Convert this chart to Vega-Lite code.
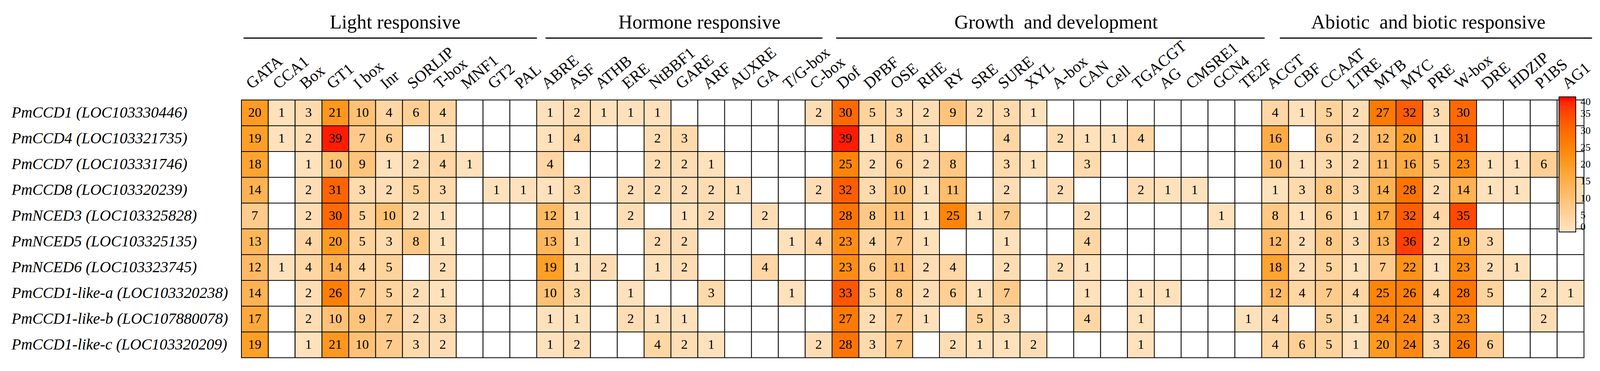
{
  "$schema": "https://vega.github.io/schema/vega-lite/v6.json",
  "padding": {"left": 29, "top": 32, "right": 10, "bottom": 10},
  "bounds": "flush",
  "spacing": 0,
  "config": {"view": {"stroke": null}, "font": "Liberation Serif", "axis": {"labelColor": "black", "labelFont": "Liberation Serif"}, "legend": {"padding": 0, "offset": 0}},
  "datasets": {
    "cis": [
      {"gene":"PmCCD1 (LOC103330446)","GATA":20,"CCA1":1,"Box":3,"GT1":21,"I box":10,"Inr":4,"SORLIP":6,"T-box":4,"ABRE":1,"ASF":2,"ATHB":1,"ERE":1,"NtBBF1":1,"C-box":2,"Dof":30,"DPBF":5,"OSE":3,"RHE":2,"RY":9,"SRE":2,"SURE":3,"XYL":1,"ACGT":4,"CBF":1,"CCAAT":5,"LTRE":2,"MYB":27,"MYC":32,"PRE":3,"W-box":30},
      {"gene":"PmCCD4 (LOC103321735)","GATA":19,"CCA1":1,"Box":2,"GT1":39,"I box":7,"Inr":6,"T-box":1,"ABRE":1,"ASF":4,"NtBBF1":2,"GARE":3,"Dof":39,"DPBF":1,"OSE":8,"RHE":1,"SURE":4,"A-box":2,"CAN":1,"Cell":1,"TGACGT":4,"ACGT":16,"CCAAT":6,"LTRE":2,"MYB":12,"MYC":20,"PRE":1,"W-box":31},
      {"gene":"PmCCD7 (LOC103331746)","GATA":18,"Box":1,"GT1":10,"I box":9,"Inr":1,"SORLIP":2,"T-box":4,"MNF1":1,"ABRE":4,"NtBBF1":2,"GARE":2,"ARF":1,"Dof":25,"DPBF":2,"OSE":6,"RHE":2,"RY":8,"SURE":3,"XYL":1,"CAN":3,"ACGT":10,"CBF":1,"CCAAT":3,"LTRE":2,"MYB":11,"MYC":16,"PRE":5,"W-box":23,"DRE":1,"HDZIP":1,"P1BS":6},
      {"gene":"PmCCD8 (LOC103320239)","GATA":14,"Box":2,"GT1":31,"I box":3,"Inr":2,"SORLIP":5,"T-box":3,"GT2":1,"PAL":1,"ABRE":1,"ASF":3,"ERE":2,"NtBBF1":2,"GARE":2,"ARF":2,"AUXRE":1,"C-box":2,"Dof":32,"DPBF":3,"OSE":10,"RHE":1,"RY":11,"SURE":2,"A-box":2,"TGACGT":2,"AG":1,"CMSRE1":1,"ACGT":1,"CBF":3,"CCAAT":8,"LTRE":3,"MYB":14,"MYC":28,"PRE":2,"W-box":14,"DRE":1,"HDZIP":1,"AG1":1},
      {"gene":"PmNCED3 (LOC103325828)","GATA":7,"Box":2,"GT1":30,"I box":5,"Inr":10,"SORLIP":2,"T-box":1,"ABRE":12,"ASF":1,"ERE":2,"GARE":1,"ARF":2,"GA":2,"Dof":28,"DPBF":8,"OSE":11,"RHE":1,"RY":25,"SRE":1,"SURE":7,"CAN":2,"GCN4":1,"ACGT":8,"CBF":1,"CCAAT":6,"LTRE":1,"MYB":17,"MYC":32,"PRE":4,"W-box":35},
      {"gene":"PmNCED5 (LOC103325135)","GATA":13,"Box":4,"GT1":20,"I box":5,"Inr":3,"SORLIP":8,"T-box":1,"ABRE":13,"ASF":1,"NtBBF1":2,"GARE":2,"T/G-box":1,"C-box":4,"Dof":23,"DPBF":4,"OSE":7,"RHE":1,"SURE":1,"CAN":4,"ACGT":12,"CBF":2,"CCAAT":8,"LTRE":3,"MYB":13,"MYC":36,"PRE":2,"W-box":19,"DRE":3},
      {"gene":"PmNCED6 (LOC103323745)","GATA":12,"CCA1":1,"Box":4,"GT1":14,"I box":4,"Inr":5,"T-box":2,"ABRE":19,"ASF":1,"ATHB":2,"NtBBF1":1,"GARE":2,"GA":4,"Dof":23,"DPBF":6,"OSE":11,"RHE":2,"RY":4,"SURE":2,"A-box":2,"CAN":1,"ACGT":18,"CBF":2,"CCAAT":5,"LTRE":1,"MYB":7,"MYC":22,"PRE":1,"W-box":23,"DRE":2,"HDZIP":1},
      {"gene":"PmCCD1-like-a (LOC103320238)","GATA":14,"Box":2,"GT1":26,"I box":7,"Inr":5,"SORLIP":2,"T-box":1,"ABRE":10,"ASF":3,"ERE":1,"ARF":3,"T/G-box":1,"Dof":33,"DPBF":5,"OSE":8,"RHE":2,"RY":6,"SRE":1,"SURE":7,"CAN":1,"TGACGT":1,"AG":1,"ACGT":12,"CBF":4,"CCAAT":7,"LTRE":4,"MYB":25,"MYC":26,"PRE":4,"W-box":28,"DRE":5,"P1BS":2,"AG1":1},
      {"gene":"PmCCD1-like-b (LOC107880078)","GATA":17,"Box":2,"GT1":10,"I box":9,"Inr":7,"SORLIP":2,"T-box":3,"ABRE":1,"ASF":1,"ERE":2,"NtBBF1":1,"GARE":1,"Dof":27,"DPBF":2,"OSE":7,"RHE":1,"SRE":5,"SURE":3,"CAN":4,"TGACGT":1,"TE2F":1,"ACGT":4,"CCAAT":5,"LTRE":1,"MYB":24,"MYC":24,"PRE":3,"W-box":23,"P1BS":2},
      {"gene":"PmCCD1-like-c (LOC103320209)","GATA":19,"Box":1,"GT1":21,"I box":10,"Inr":7,"SORLIP":3,"T-box":2,"ABRE":1,"ASF":2,"NtBBF1":4,"GARE":2,"ARF":1,"C-box":2,"Dof":28,"DPBF":3,"OSE":7,"RY":2,"SRE":1,"SURE":1,"XYL":2,"TGACGT":1,"ACGT":4,"CBF":6,"CCAAT":5,"LTRE":1,"MYB":20,"MYC":24,"PRE":3,"W-box":26,"DRE":6}
    ]
  },
  "resolve": {"scale": {"color": "shared", "y": "shared"}},
  "hconcat": [
    {
      "width": 756, "height": 660,
      "data": {"name": "cis"},
      "transform": [{"fold": ["GATA","CCA1","Box","GT1","I box","Inr","SORLIP","T-box","MNF1","GT2","PAL"], "as": ["element","count"]}],
      "layer": [
        {"layer": [
          {"mark": {"type": "rect", "fill": "white", "stroke": "black", "strokeWidth": 2},
           "encoding": {
             "x": {"field": "element", "type": "nominal", "scale": {"domain": ["GATA","CCA1","Box","GT1","I box","Inr","SORLIP","T-box","MNF1","GT2","PAL"]},
                   "axis": {"orient": "top", "labelAngle": -40, "labelAlign": "left", "labelBaseline": "alphabetic", "labelPadding": 27, "labelOffset": -8, "ticks": false, "tickSize": 0, "domain": false, "title": null, "labelFontSize": 41, "labelLimit": 0, "labelOverlap": false}},
             "y": {"field": "gene", "type": "nominal", "scale": {"domain": ["PmCCD1 (LOC103330446)","PmCCD4 (LOC103321735)","PmCCD7 (LOC103331746)","PmCCD8 (LOC103320239)","PmNCED3 (LOC103325828)","PmNCED5 (LOC103325135)","PmNCED6 (LOC103323745)","PmCCD1-like-a (LOC103320238)","PmCCD1-like-b (LOC107880078)","PmCCD1-like-c (LOC103320209)"]},
                   "axis": {"orient": "left", "labelAlign": "left", "labelBaseline": "middle", "labelPadding": 589, "ticks": false, "tickSize": 0, "domain": false, "title": null, "labelFontSize": 40, "labelFontStyle": "italic", "labelLimit": 0}}
           }},
          {"transform": [{"filter": "isValid(datum.count)"}],
           "mark": {"type": "rect", "stroke": "black", "strokeWidth": 2},
           "encoding": {
             "x": {"field": "element", "type": "nominal"},
             "y": {"field": "gene", "type": "nominal"},
             "color": {"field": "count", "type": "quantitative", "scale": {"domain": [0, 19, 40], "range": ["#FFE4C4", "#FF9F26", "#FF0000"]},
                       "legend": {"title": null, "orient": "none", "legendX": 3373, "legendY": -8, "direction": "vertical", "gradientLength": 346, "gradientThickness": 43, "values": [0,5,10,15,20,25,30,35,40], "labelFontSize": 26, "labelFont": "Liberation Serif", "labelColor": "black", "gradientStrokeColor": "black", "gradientStrokeWidth": 2, "labelOffset": 12}}
           }},
          {"transform": [{"filter": "isValid(datum.count)"}],
           "mark": {"type": "text", "fontSize": 34, "font": "Liberation Serif", "baseline": "middle", "color": "black"},
           "encoding": {
             "x": {"field": "element", "type": "nominal"},
             "y": {"field": "gene", "type": "nominal"},
             "text": {"field": "count", "type": "quantitative"}
           }}
        ]},
        {"mark": {"type": "rect", "opacity": 0},
         "encoding": {
           "x": {"field": "element", "type": "nominal", "scale": {"domain": ["GATA","CCA1","Box","GT1","I box","Inr","SORLIP","T-box","MNF1","GT2","PAL"], "range": [5, 756]},
                 "axis": {"orient": "top", "offset": 159, "domain": true, "domainColor": "black", "domainWidth": 3, "labels": false, "ticks": false, "grid": false, "title": "Light responsive", "titleFontSize": 50, "titleFont": "Liberation Serif", "titleFontWeight": "normal", "titleColor": "black", "titleX": 393, "titleY": -25, "titleAlign": "center", "titleBaseline": "alphabetic"}}
         }}
      ],
      "resolve": {"scale": {"x": "independent"}, "axis": {"x": "independent"}}
    },
    {
      "width": 756, "height": 660,
      "data": {"name": "cis"},
      "transform": [{"fold": ["ABRE","ASF","ATHB","ERE","NtBBF1","GARE","ARF","AUXRE","GA","T/G-box","C-box"], "as": ["element","count"]}],
      "layer": [
        {"layer": [
          {"mark": {"type": "rect", "fill": "white", "stroke": "black", "strokeWidth": 2},
           "encoding": {
             "x": {"field": "element", "type": "nominal", "scale": {"domain": ["ABRE","ASF","ATHB","ERE","NtBBF1","GARE","ARF","AUXRE","GA","T/G-box","C-box"]},
                   "axis": {"orient": "top", "labelAngle": -40, "labelAlign": "left", "labelBaseline": "alphabetic", "labelPadding": 27, "labelOffset": -8, "ticks": false, "tickSize": 0, "domain": false, "title": null, "labelFontSize": 41, "labelLimit": 0, "labelOverlap": false}},
             "y": {"field": "gene", "type": "nominal", "axis": null}
           }},
          {"transform": [{"filter": "isValid(datum.count)"}],
           "mark": {"type": "rect", "stroke": "black", "strokeWidth": 2},
           "encoding": {
             "x": {"field": "element", "type": "nominal"},
             "y": {"field": "gene", "type": "nominal", "axis": null},
             "color": {"field": "count", "type": "quantitative", "scale": {"domain": [0, 19, 40], "range": ["#FFE4C4", "#FF9F26", "#FF0000"]},
                       "legend": {"title": null, "orient": "none", "legendX": 3373, "legendY": -8, "direction": "vertical", "gradientLength": 346, "gradientThickness": 43, "values": [0,5,10,15,20,25,30,35,40], "labelFontSize": 26, "labelFont": "Liberation Serif", "labelColor": "black", "gradientStrokeColor": "black", "gradientStrokeWidth": 2, "labelOffset": 12}}
           }},
          {"transform": [{"filter": "isValid(datum.count)"}],
           "mark": {"type": "text", "fontSize": 34, "font": "Liberation Serif", "baseline": "middle", "color": "black"},
           "encoding": {
             "x": {"field": "element", "type": "nominal"},
             "y": {"field": "gene", "type": "nominal", "axis": null},
             "text": {"field": "count", "type": "quantitative"}
           }}
        ]},
        {"mark": {"type": "rect", "opacity": 0},
         "encoding": {
           "x": {"field": "element", "type": "nominal", "scale": {"domain": ["ABRE","ASF","ATHB","ERE","NtBBF1","GARE","ARF","AUXRE","GA","T/G-box","C-box"], "range": [22, 731]},
                 "axis": {"orient": "top", "offset": 159, "domain": true, "domainColor": "black", "domainWidth": 3, "labels": false, "ticks": false, "grid": false, "title": "Hormone responsive", "titleFontSize": 50, "titleFont": "Liberation Serif", "titleFontWeight": "normal", "titleColor": "black", "titleX": 416, "titleY": -25, "titleAlign": "center", "titleBaseline": "alphabetic"}}
         }}
      ],
      "resolve": {"scale": {"x": "independent"}, "axis": {"x": "independent"}}
    },
    {
      "width": 1100, "height": 660,
      "data": {"name": "cis"},
      "transform": [{"fold": ["Dof","DPBF","OSE","RHE","RY","SRE","SURE","XYL","A-box","CAN","Cell","TGACGT","AG","CMSRE1","GCN4","TE2F"], "as": ["element","count"]}],
      "layer": [
        {"layer": [
          {"mark": {"type": "rect", "fill": "white", "stroke": "black", "strokeWidth": 2},
           "encoding": {
             "x": {"field": "element", "type": "nominal", "scale": {"domain": ["Dof","DPBF","OSE","RHE","RY","SRE","SURE","XYL","A-box","CAN","Cell","TGACGT","AG","CMSRE1","GCN4","TE2F"]},
                   "axis": {"orient": "top", "labelAngle": -40, "labelAlign": "left", "labelBaseline": "alphabetic", "labelPadding": 27, "labelOffset": -8, "ticks": false, "tickSize": 0, "domain": false, "title": null, "labelFontSize": 41, "labelLimit": 0, "labelOverlap": false}},
             "y": {"field": "gene", "type": "nominal", "axis": null}
           }},
          {"transform": [{"filter": "isValid(datum.count)"}],
           "mark": {"type": "rect", "stroke": "black", "strokeWidth": 2},
           "encoding": {
             "x": {"field": "element", "type": "nominal"},
             "y": {"field": "gene", "type": "nominal", "axis": null},
             "color": {"field": "count", "type": "quantitative", "scale": {"domain": [0, 19, 40], "range": ["#FFE4C4", "#FF9F26", "#FF0000"]},
                       "legend": {"title": null, "orient": "none", "legendX": 3373, "legendY": -8, "direction": "vertical", "gradientLength": 346, "gradientThickness": 43, "values": [0,5,10,15,20,25,30,35,40], "labelFontSize": 26, "labelFont": "Liberation Serif", "labelColor": "black", "gradientStrokeColor": "black", "gradientStrokeWidth": 2, "labelOffset": 12}}
           }},
          {"transform": [{"filter": "isValid(datum.count)"}],
           "mark": {"type": "text", "fontSize": 34, "font": "Liberation Serif", "baseline": "middle", "color": "black"},
           "encoding": {
             "x": {"field": "element", "type": "nominal"},
             "y": {"field": "gene", "type": "nominal", "axis": null},
             "text": {"field": "count", "type": "quantitative"}
           }}
        ]},
        {"mark": {"type": "rect", "opacity": 0},
         "encoding": {
           "x": {"field": "element", "type": "nominal", "scale": {"domain": ["Dof","DPBF","OSE","RHE","RY","SRE","SURE","XYL","A-box","CAN","Cell","TGACGT","AG","CMSRE1","GCN4","TE2F"], "range": [10, 1107]},
                 "axis": {"orient": "top", "offset": 159, "domain": true, "domainColor": "black", "domainWidth": 3, "labels": false, "ticks": false, "grid": false, "title": "Growth\u00a0 and development", "titleFontSize": 50, "titleFont": "Liberation Serif", "titleFontWeight": "normal", "titleColor": "black", "titleX": 573, "titleY": -25, "titleAlign": "center", "titleBaseline": "alphabetic"}}
         }}
      ],
      "resolve": {"scale": {"x": "independent"}, "axis": {"x": "independent"}}
    },
    {
      "width": 825, "height": 660,
      "data": {"name": "cis"},
      "transform": [{"fold": ["ACGT","CBF","CCAAT","LTRE","MYB","MYC","PRE","W-box","DRE","HDZIP","P1BS","AG1"], "as": ["element","count"]}],
      "layer": [
        {"layer": [
          {"mark": {"type": "rect", "fill": "white", "stroke": "black", "strokeWidth": 2},
           "encoding": {
             "x": {"field": "element", "type": "nominal", "scale": {"domain": ["ACGT","CBF","CCAAT","LTRE","MYB","MYC","PRE","W-box","DRE","HDZIP","P1BS","AG1"]},
                   "axis": {"orient": "top", "labelAngle": -40, "labelAlign": "left", "labelBaseline": "alphabetic", "labelPadding": 27, "labelOffset": -8, "ticks": false, "tickSize": 0, "domain": false, "title": null, "labelFontSize": 41, "labelLimit": 0, "labelOverlap": false}},
             "y": {"field": "gene", "type": "nominal", "axis": null}
           }},
          {"transform": [{"filter": "isValid(datum.count)"}],
           "mark": {"type": "rect", "stroke": "black", "strokeWidth": 2},
           "encoding": {
             "x": {"field": "element", "type": "nominal"},
             "y": {"field": "gene", "type": "nominal", "axis": null},
             "color": {"field": "count", "type": "quantitative", "scale": {"domain": [0, 19, 40], "range": ["#FFE4C4", "#FF9F26", "#FF0000"]},
                       "legend": {"title": null, "orient": "none", "legendX": 3373, "legendY": -8, "direction": "vertical", "gradientLength": 346, "gradientThickness": 43, "values": [0,5,10,15,20,25,30,35,40], "labelFontSize": 26, "labelFont": "Liberation Serif", "labelColor": "black", "gradientStrokeColor": "black", "gradientStrokeWidth": 2, "labelOffset": 12}}
           }},
          {"transform": [{"filter": "isValid(datum.count)"}],
           "mark": {"type": "text", "fontSize": 34, "font": "Liberation Serif", "baseline": "middle", "color": "black"},
           "encoding": {
             "x": {"field": "element", "type": "nominal"},
             "y": {"field": "gene", "type": "nominal", "axis": null},
             "text": {"field": "count", "type": "quantitative"}
           }}
        ]},
        {"mark": {"type": "rect", "opacity": 0},
         "encoding": {
           "x": {"field": "element", "type": "nominal", "scale": {"domain": ["ACGT","CBF","CCAAT","LTRE","MYB","MYC","PRE","W-box","DRE","HDZIP","P1BS","AG1"], "range": [46, 845]},
                 "axis": {"orient": "top", "offset": 159, "domain": true, "domainColor": "black", "domainWidth": 3, "labels": false, "ticks": false, "grid": false, "title": "Abiotic\u00a0 and biotic responsive", "titleFontSize": 50, "titleFont": "Liberation Serif", "titleFontWeight": "normal", "titleColor": "black", "titleX": 426, "titleY": -25, "titleAlign": "center", "titleBaseline": "alphabetic"}}
         }}
      ],
      "resolve": {"scale": {"x": "independent"}, "axis": {"x": "independent"}}
    }
  ]
}
